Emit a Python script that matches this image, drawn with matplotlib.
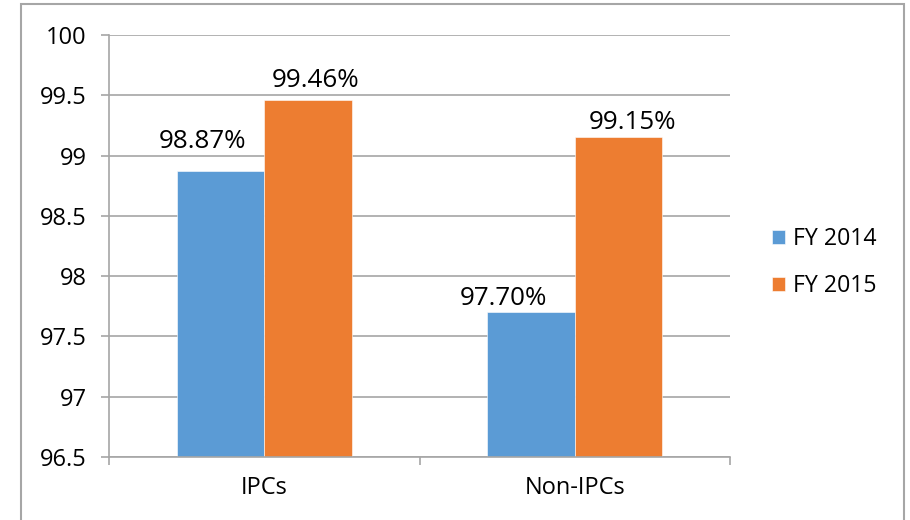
import matplotlib.pyplot as plt
import matplotlib.patches as patches
import numpy as np

categories = ["IPCs", "Non-IPCs"]
series_names = ["FY 2014", "FY 2015"]
fy2014 = [98.87, 97.70]
fy2015 = [99.46, 99.15]
yticks = [96.5, 97, 97.5, 98, 98.5, 99, 99.5, 100]

# hand placed label offsets (pixels: dx from bar centre, baseline above bar top)
offs2014 = [(-18, 23), (-28, 7)]
offs2015 = [(8, 13), (14, 8)]

blue = "#5B9BD5"
orange = "#ED7D31"
grid_c = "#A6A6A6"

plt.rcParams['font.family'] = ['Open Sans', 'DejaVu Sans']

fig = plt.figure(figsize=(9.1, 5.2), dpi=100)
ax = fig.add_axes([109/910, 1-457/520, (730-109)/910, (457-35)/520])

# outer chart border (bottom runs off the picture)
fig.patches.append(patches.Rectangle((21/910, -0.05), (904-21)/910, 1.05-4/520,
                                     transform=fig.transFigure, fill=False,
                                     edgecolor=grid_c, linewidth=1.5))

x = np.arange(len(categories))
w = 0.281
b1 = ax.bar(x - w/2, np.array(fy2014) - 96.5, w, bottom=96.5, color=blue,
            edgecolor="white", linewidth=0.4, label=series_names[0])
b2 = ax.bar(x + w/2, np.array(fy2015) - 96.5, w, bottom=96.5, color=orange,
            edgecolor="white", linewidth=0.4, label=series_names[1])

for bars, vals, offs in [(b1, fy2014, offs2014), (b2, fy2015, offs2015)]:
    for r, v, o in zip(bars, vals, offs):
        ax.annotate(f"{v:.2f}%", (r.get_x() + r.get_width()/2, v),
                    xytext=o, textcoords="offset pixels",
                    ha="center", va="baseline", fontsize=18.7, color="black")

ax.set_xlim(-0.5, 1.5)
ax.set_ylim(96.5, 100)
ax.set_yticks(yticks)
ax.set_yticklabels([f"{t:g}" for t in yticks])
ax.set_xticks(x)
ax.set_xticklabels(categories)
ax.set_xticks([-0.5, 0.5, 1.5], minor=True)

ax.tick_params(axis="x", which="major", length=0, pad=14, labelsize=17)
ax.tick_params(axis="x", which="minor", length=6, width=1.2, color=grid_c, direction="out")
ax.tick_params(axis="y", length=5.5, width=1.2, color=grid_c, pad=10.5, labelsize=17)

ax.yaxis.grid(True, color=grid_c, linewidth=1.2)
ax.set_axisbelow(True)
for s in ["top", "right"]:
    ax.spines[s].set_visible(False)
for s in ["left", "bottom"]:
    ax.spines[s].set_color(grid_c)
    ax.spines[s].set_linewidth(1.2)

ax.legend(loc="center left", bbox_to_anchor=(1.068, 0.461), frameon=False,
          fontsize=16.7, handlelength=0.56, handleheight=0.56,
          handletextpad=0.35, labelspacing=1.0, borderpad=0, borderaxespad=0)

fig.savefig("out.png", dpi=100)
